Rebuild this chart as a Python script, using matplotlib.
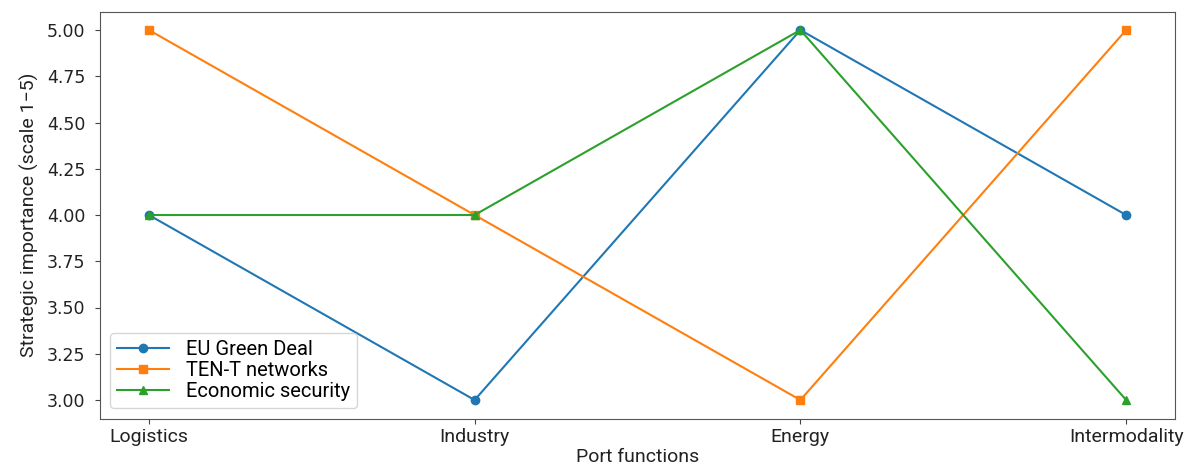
import matplotlib
matplotlib.use("Agg")
import matplotlib.pyplot as plt

plt.rcParams['font.family'] = ['Roboto', 'DejaVu Sans']

functions = ["Logistics", "Industry", "Energy", "Intermodality"]
green_deal = [4, 3, 5, 4]
ten_t = [5, 4, 3, 5]
economic_security = [4, 4, 5, 3]
y_ticks = [3.0, 3.25, 3.5, 3.75, 4.0, 4.25, 4.5, 4.75, 5.0]

fig = plt.figure(figsize=(11.86, 4.66), dpi=100)
ax = fig.add_axes([100 / 1186, 1 - 418.5 / 466, 1075 / 1186, 407 / 466])

x = list(range(len(functions)))
ax.plot(x, green_deal, marker='o', color='#1f77b4', label='EU Green Deal')
ax.plot(x, ten_t, marker='s', color='#ff7f0e', label='TEN-T networks')
ax.plot(x, economic_security, marker='^', color='#2ca02c', label='Economic security')

ax.set_xticks(x)
ax.set_xticklabels(functions, fontsize=14, color='#222222')
ax.set_yticks(y_ticks)
ax.set_yticklabels([f"{v:.2f}" for v in y_ticks], fontsize=12.5,
                   family='DejaVu Sans', color='#222222')
ax.tick_params(axis='both', color='#444444')
ax.tick_params(axis='y', pad=7)
ax.set_xlabel("Port functions", fontsize=14, labelpad=1, color='#222222')
ax.set_ylabel("Strategic importance (scale 1\u22125)", fontsize=14, labelpad=6,
              color='#222222')
for s in ax.spines.values():
    s.set_color('#555555')
ax.legend(loc='lower left', fontsize=14.5, labelspacing=0.12,
          handlelength=2.6, handletextpad=0.8, borderpad=0.35)

fig.savefig("out.png", dpi=100)
